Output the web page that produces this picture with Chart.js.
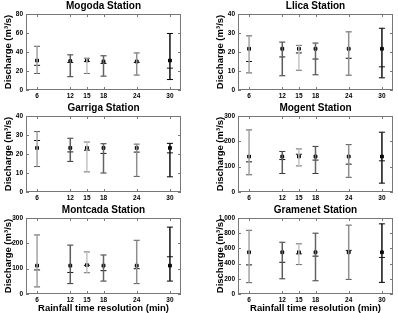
<!DOCTYPE html>
<html>
<head>
<meta charset="utf-8">
<script src="https://cdn.jsdelivr.net/npm/chart.js@4.4.0/dist/chart.umd.min.js"></script>
<style>
  body { margin: 0; background: #fff; width: 398px; height: 313px; position: relative; overflow: hidden; }
  .caixa { position: absolute; width: 186px; height: 102px; }
  .baixo { height: 109px; }
</style>
</head>
<body>
<div class="caixa" style="left:0;top:0"><canvas id="mogoda"></canvas></div>
<div class="caixa" style="left:212px;top:0"><canvas id="llica"></canvas></div>
<div class="caixa" style="left:0;top:102px"><canvas id="garriga"></canvas></div>
<div class="caixa" style="left:212px;top:102px"><canvas id="mogent"></canvas></div>
<div class="caixa baixo" style="left:0;top:204px"><canvas id="montcada"></canvas></div>
<div class="caixa baixo" style="left:212px;top:204px"><canvas id="gramenet"></canvas></div>
<script>
// resoluções (min) e cores de cada barra
const resolucoes = [6, 12, 15, 18, 24, 30];
const coresBarra = ["#a3a3a3", "#5c5c5c", "#c4c4c4", "#646464", "#8e8e8e", "#111111"];
const coresTampa = ["#555555", "#333333", "#666666", "#333333", "#555555", "#000000"];

// valores: limite superior, média, marca interna, limite inferior
const mogodaSup = [46, 37, 33.5, 36, 39, 59.5];
const mogodaMed = [31, 30.5, 31, 30, 30, 31];
const mogodaMarca = [26, 29, 30, 28, 29, 23];
const mogodaInf = [17.4, 14, 17.4, 14.6, 15.7, 11];

const llicaSup = [28.5, 25.2, 23.5, 24.7, 30.6, 32.5];
const llicaMed = [21.7, 21.7, 21.7, 21.7, 21.7, 21.7];
const llicaMarca = [15, 17.4, 19.5, 16.3, 16.7, 12.2];
const llicaInf = [9, 7.5, 10.4, 8, 7.8, 6.4];

const garrigaSup = [31.8, 28.3, 26.3, 25.4, 25.2, 25.6];
const garrigaMed = [23.2, 23.2, 23.2, 23.2, 23.2, 23.2];
const garrigaMarca = [27.1, 21.1, 22, 20.3, 21, 20.6];
const garrigaInf = [13.4, 16.1, 10.6, 10, 8.2, 8];

const mogentSup = [245, 160, 170, 180, 187, 236];
const mogentMed = [140, 140, 140, 140, 140, 140];
const mogentMarca = [119, 128, 149, 126, 110, 123];
const mogentInf = [68, 73, 103, 73, 58, 35];

const montcadaSup = [233, 193, 166, 154, 212, 264];
const montcadaMed = [112, 112, 114, 112, 112, 112];
const montcadaMarca = [95, 85, 113, 92, 100, 147];
const montcadaInf = [28, 41, 84, 51, 41, 51];

const gramenetSup = [838, 681, 660, 800, 906, 923];
const gramenetMed = [549, 549, 549, 549, 549, 549];
const gramenetMarca = [383, 417, 528, 498, 574, 481];
const gramenetInf = [149, 200, 387, 174, 192, 153];

Chart.defaults.font.family = "'Liberation Sans', sans-serif";
Chart.defaults.color = "#000";

// moldura estilo matlab com ticks para dentro
const moldura = {
    id: "moldura",
    afterDraw(chart) {
        const { ctx, chartArea: a, scales: { x, y } } = chart;
        ctx.save();
        ctx.strokeStyle = "#777";
        ctx.lineWidth = 1;
        ctx.strokeRect(Math.round(a.left) + 0.5, Math.round(a.top) + 0.5,
            Math.round(a.width) - 1, Math.round(a.height) - 1);
        ctx.beginPath();
        x.ticks.forEach(t => {
            const px = Math.round(x.getPixelForValue(t.value)) + 0.5;
            ctx.moveTo(px, a.bottom); ctx.lineTo(px, a.bottom - 3);
            ctx.moveTo(px, a.top); ctx.lineTo(px, a.top + 3);
        });
        y.ticks.forEach(t => {
            const py = Math.round(y.getPixelForValue(t.value)) + 0.5;
            ctx.moveTo(a.left, py); ctx.lineTo(a.left + 3, py);
            ctx.moveTo(a.right, py); ctx.lineTo(a.right - 3, py);
        });
        ctx.stroke();
        ctx.restore();
    }
};

function pontos(valores) {
    return resolucoes.map((r, i) => ({ x: r, y: valores[i] }));
}

function criarGrafico(id, titulo, sup, med, marca, inf, yMax, passo, comRotulo) {
    const datasets = [
        {
            type: "bar",
            data: resolucoes.map((r, i) => ({ x: r, y: [inf[i], sup[i]] })),
            backgroundColor: coresBarra,
            barThickness: 1.5,
            grouped: false,
            borderWidth: 0,
            inflateAmount: 0
        },
        {
            type: "line", showLine: false, data: pontos(sup),
            pointStyle: "line", pointRadius: 3, pointBorderWidth: 1, pointBorderColor: coresTampa
        },
        {
            type: "line", showLine: false, data: pontos(inf),
            pointStyle: "line", pointRadius: 3, pointBorderWidth: 1, pointBorderColor: coresTampa
        },
        {
            type: "line", showLine: false, data: pontos(marca),
            pointStyle: "line", pointRadius: 3, pointBorderWidth: 1, pointBorderColor: "#111"
        },
        {
            type: "line", showLine: false, data: pontos(med),
            pointStyle: "rect", pointRadius: 2, pointBorderWidth: 1,
            pointBackgroundColor: "#000", pointBorderColor: "#000"
        }
    ];

    return new Chart(document.getElementById(id), {
        type: "bar",
        data: { datasets },
        plugins: [moldura],
        options: {
            responsive: true,
            maintainAspectRatio: false,
            animation: false,
            layout: { padding: { left: 0, right: 5, top: 0, bottom: 0 } },
            plugins: {
                legend: { display: false },
                tooltip: { enabled: false },
                title: {
                    display: true,
                    text: titulo,
                    fullSize: false,
                    font: { size: 10, weight: "bold", lineHeight: 1 },
                    padding: { top: 1, bottom: 3 },
                    color: "#000"
                }
            },
            scales: {
                x: {
                    type: "linear",
                    min: 4,
                    max: 32,
                    offset: false,
                    grid: { display: false, offset: false, drawTicks: false, tickLength: 0 },
                    border: { display: false },
                    afterBuildTicks: s => { s.ticks = resolucoes.map(v => ({ value: v })); },
                    ticks: { font: { size: 6.5, weight: "bold" }, padding: 2, maxRotation: 0, autoSkip: false },
                    title: {
                        display: comRotulo,
                        text: "Rainfall time resolution (min)",
                        font: { size: 9.5, weight: "bold", lineHeight: 1 },
                        padding: { top: 0, bottom: 0 }
                    },
                    afterFit: s => { s.height = comRotulo ? 19 : 12; }
                },
                y: {
                    min: 0,
                    max: yMax,
                    grid: { display: false, drawTicks: false, tickLength: 0 },
                    border: { display: false },
                    ticks: { stepSize: passo, font: { size: 6.5, weight: "bold" }, padding: 3 },
                    title: {
                        display: true,
                        text: "Discharge (m³/s)",
                        font: { size: 9.5, weight: "bold", lineHeight: 1 },
                        padding: { top: 4, bottom: 0 }
                    },
                    afterFit: s => { s.width = 26; }
                }
            }
        }
    });
}

criarGrafico("mogoda", "Mogoda Station", mogodaSup, mogodaMed, mogodaMarca, mogodaInf, 80, 20, false);
criarGrafico("llica", "Llica Station", llicaSup, llicaMed, llicaMarca, llicaInf, 40, 10, false);
criarGrafico("garriga", "Garriga Station", garrigaSup, garrigaMed, garrigaMarca, garrigaInf, 40, 10, false);
criarGrafico("mogent", "Mogent Station", mogentSup, mogentMed, mogentMarca, mogentInf, 300, 100, false);
criarGrafico("montcada", "Montcada Station", montcadaSup, montcadaMed, montcadaMarca, montcadaInf, 300, 100, true);
criarGrafico("gramenet", "Gramenet Station", gramenetSup, gramenetMed, gramenetMarca, gramenetInf, 1000, 200, true);
</script>
</body>
</html>
